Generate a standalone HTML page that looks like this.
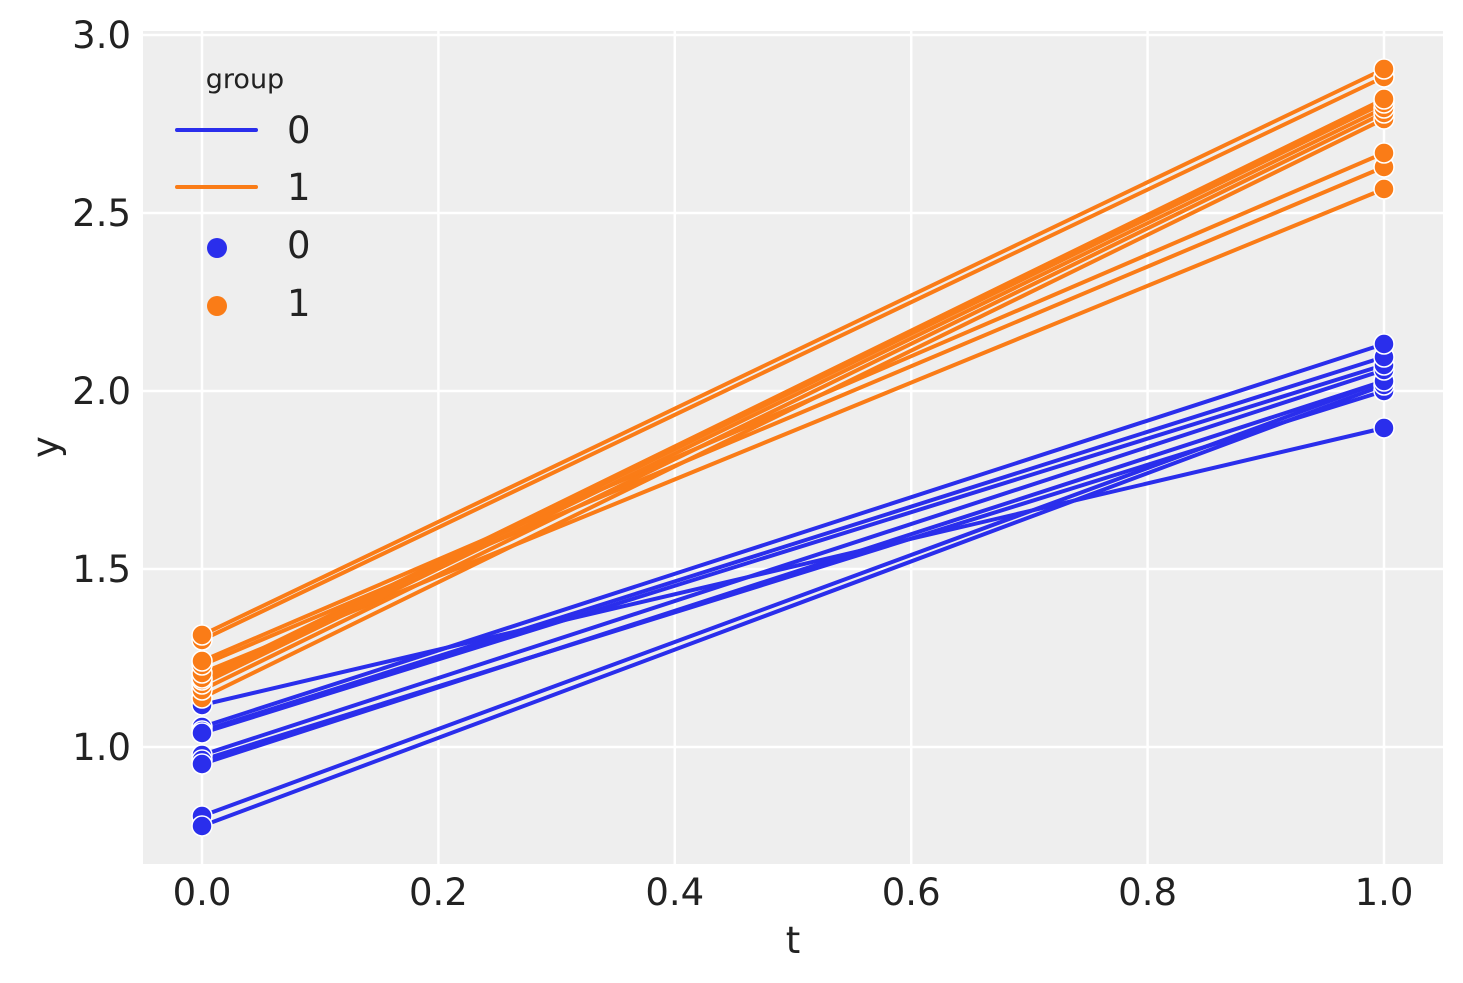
<!DOCTYPE html>
<html><head><meta charset="utf-8"><style>
html,body{margin:0;padding:0;background:#fff}
svg{display:block}
text{font-family:"DejaVu Sans","Liberation Sans",sans-serif;fill:#222}
</style></head><body>
<svg width="1463" height="983" viewBox="0 0 1463 983" xmlns="http://www.w3.org/2000/svg">
<rect x="143" y="31" width="1300" height="833" fill="#eeeeee"/>
<g stroke="#fff" stroke-width="2.5">
<line x1="202" y1="31" x2="202" y2="864"/>
<line x1="438.4" y1="31" x2="438.4" y2="864"/>
<line x1="674.8" y1="31" x2="674.8" y2="864"/>
<line x1="911.2" y1="31" x2="911.2" y2="864"/>
<line x1="1147.6" y1="31" x2="1147.6" y2="864"/>
<line x1="1384" y1="31" x2="1384" y2="864"/>
<line x1="143" y1="35" x2="1443" y2="35"/>
<line x1="143" y1="213" x2="1443" y2="213"/>
<line x1="143" y1="391" x2="1443" y2="391"/>
<line x1="143" y1="569" x2="1443" y2="569"/>
<line x1="143" y1="747" x2="1443" y2="747"/>
</g>
<g font-size="37" text-anchor="middle">
<text x="202" y="905">0.0</text><text x="438.4" y="905">0.2</text><text x="674.8" y="905">0.4</text>
<text x="911.2" y="905">0.6</text><text x="1147.6" y="905">0.8</text><text x="1384" y="905">1.0</text>
</g>
<g font-size="37" text-anchor="end">
<text x="131" y="48">3.0</text><text x="131" y="226">2.5</text><text x="131" y="404">2.0</text>
<text x="131" y="582">1.5</text><text x="131" y="760">1.0</text>
</g>
<text x="793" y="953" font-size="37" text-anchor="middle">t</text>
<text x="58" y="447" font-size="37" text-anchor="middle" transform="rotate(-90 58 447)">y</text>
<g stroke="#2a2eec" stroke-width="4" stroke-linecap="round">
<line x1="202" y1="705" x2="1384" y2="428"/>
<line x1="202" y1="816" x2="1384" y2="381"/>
<line x1="202" y1="826" x2="1384" y2="385"/>
<line x1="202" y1="727" x2="1384" y2="344"/>
<line x1="202" y1="731" x2="1384" y2="357"/>
<line x1="202" y1="733" x2="1384" y2="365"/>
<line x1="202" y1="755" x2="1384" y2="370"/>
<line x1="202" y1="760" x2="1384" y2="391"/>
<line x1="202" y1="764" x2="1384" y2="381"/>
</g>
<g stroke="#fa7c17" stroke-width="4" stroke-linecap="round">
<line x1="202" y1="635" x2="1384" y2="69"/>
<line x1="202" y1="640" x2="1384" y2="77"/>
<line x1="202" y1="661" x2="1384" y2="153"/>
<line x1="202" y1="665" x2="1384" y2="167"/>
<line x1="202" y1="673" x2="1384" y2="189"/>
<line x1="202" y1="678" x2="1384" y2="99"/>
<line x1="202" y1="680" x2="1384" y2="103"/>
<line x1="202" y1="684" x2="1384" y2="108"/>
<line x1="202" y1="690" x2="1384" y2="113"/>
<line x1="202" y1="698" x2="1384" y2="119"/>
</g>
<g fill="#2a2eec" stroke="#fff" stroke-width="1.5">
<circle cx="202" cy="705" r="10"/><circle cx="202" cy="727" r="10"/><circle cx="202" cy="731" r="10"/>
<circle cx="202" cy="733" r="10"/><circle cx="202" cy="755" r="10"/><circle cx="202" cy="760" r="10"/>
<circle cx="202" cy="764" r="10"/><circle cx="202" cy="816" r="10"/><circle cx="202" cy="826" r="10"/>
<circle cx="1384" cy="428" r="10"/><circle cx="1384" cy="391" r="10"/><circle cx="1384" cy="385" r="10"/>
<circle cx="1384" cy="381" r="10"/><circle cx="1384" cy="370" r="10"/><circle cx="1384" cy="365" r="10"/>
<circle cx="1384" cy="357" r="10"/><circle cx="1384" cy="344" r="10"/>
</g>
<g fill="#fa7c17" stroke="#fff" stroke-width="1.5">
<circle cx="202" cy="698" r="10"/><circle cx="202" cy="690" r="10"/><circle cx="202" cy="684" r="10"/>
<circle cx="202" cy="680" r="10"/><circle cx="202" cy="678" r="10"/><circle cx="202" cy="673" r="10"/>
<circle cx="202" cy="665" r="10"/><circle cx="202" cy="661" r="10"/><circle cx="202" cy="640" r="10"/>
<circle cx="202" cy="635" r="10"/>
<circle cx="1384" cy="189" r="10"/><circle cx="1384" cy="167" r="10"/><circle cx="1384" cy="153" r="10"/>
<circle cx="1384" cy="119" r="10"/><circle cx="1384" cy="113" r="10"/><circle cx="1384" cy="108" r="10"/>
<circle cx="1384" cy="103" r="10"/><circle cx="1384" cy="99" r="10"/><circle cx="1384" cy="77" r="10"/>
<circle cx="1384" cy="69" r="10"/>
</g>
<text x="245" y="88" font-size="27" text-anchor="middle">group</text>
<line x1="177" y1="130" x2="256" y2="130" stroke="#2a2eec" stroke-width="4" stroke-linecap="round"/>
<line x1="177" y1="187" x2="256" y2="187" stroke="#fa7c17" stroke-width="4" stroke-linecap="round"/>
<circle cx="217" cy="248" r="10" fill="#2a2eec"/>
<circle cx="217" cy="306" r="10" fill="#fa7c17"/>
<g font-size="37">
<text x="287" y="143">0</text><text x="287" y="200">1</text>
<text x="287" y="258">0</text><text x="287" y="316">1</text>
</g>
</svg>
</body></html>
